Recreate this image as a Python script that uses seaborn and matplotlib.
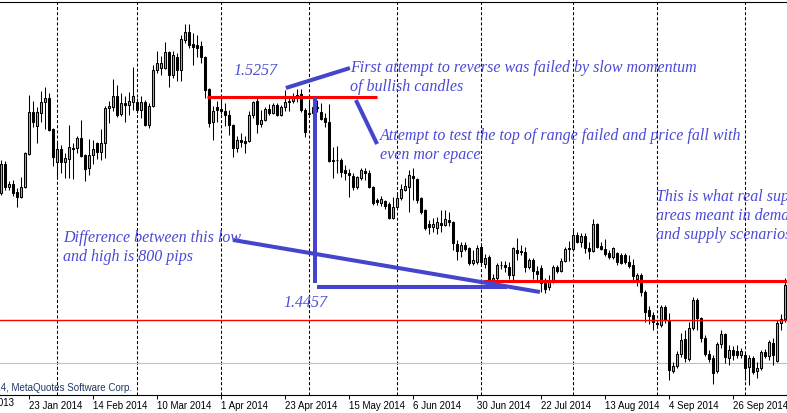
import matplotlib
matplotlib.use("Agg")
import matplotlib.pyplot as plt
import numpy as np
import pandas as pd
import seaborn as sns

# daily bars, 14 Jan 2014 .. 1 Oct 2014 (weekdays)
open_ = [
    1.4853, 1.4975, 1.4878, 1.4891, 1.4857, 1.4836, 1.4878, 1.5017, 1.5194, 1.5135,
    1.5190, 1.5236, 1.5253, 1.5122, 1.4983, 1.5038, 1.4983, 1.4996, 1.5042, 1.5042,
    1.5084, 1.5013, 1.4958, 1.5013, 1.5063, 1.5025, 1.5063, 1.5211, 1.5215, 1.5261,
    1.5185, 1.5232, 1.5223, 1.5236, 1.5236, 1.5202, 1.5236, 1.5139, 1.5219, 1.5371,
    1.5379, 1.5379, 1.5446, 1.5350, 1.5425, 1.5371, 1.5497, 1.5531, 1.5480, 1.5476,
    1.5472, 1.5425, 1.5291, 1.5152, 1.5215, 1.5206, 1.5198, 1.5181, 1.5139, 1.5042,
    1.5076, 1.5072, 1.5072, 1.5181, 1.5240, 1.5143, 1.5160, 1.5206, 1.5190, 1.5223,
    1.5181, 1.5215, 1.5240, 1.5240, 1.5261, 1.5270, 1.5202, 1.5190, 1.5190, 1.5215,
    1.5194, 1.5168, 1.5152, 1.4992, 1.4990, 1.4992, 1.4950, 1.4937, 1.4924, 1.4878,
    1.4916, 1.4945, 1.4937, 1.4878, 1.4823, 1.4811, 1.4819, 1.4806, 1.4747, 1.4794,
    1.4832, 1.4865, 1.4878, 1.4924, 1.4912, 1.4832, 1.4781, 1.4722, 1.4710, 1.4705,
    1.4726, 1.4718, 1.4739, 1.4731, 1.4638, 1.4609, 1.4634, 1.4621, 1.4558, 1.4562,
    1.4625, 1.4554, 1.4583, 1.4486, 1.4495, 1.4550, 1.4550, 1.4541, 1.4507, 1.4613,
    1.4609, 1.4604, 1.4541, 1.4571, 1.4524, 1.4537, 1.4474, 1.4457, 1.4478, 1.4541,
    1.4524, 1.4566, 1.4621, 1.4617, 1.4676, 1.4646, 1.4672, 1.4621, 1.4609, 1.4722,
    1.4630, 1.4617, 1.4600, 1.4583, 1.4600, 1.4592, 1.4592, 1.4562, 1.4550, 1.4491,
    1.4507, 1.4436, 1.4360, 1.4339, 1.4305, 1.4297, 1.4373, 1.4318, 1.4103, 1.4124,
    1.4175, 1.4238, 1.4154, 1.4284, 1.4402, 1.4326, 1.4242, 1.4175, 1.4158, 1.4103,
    1.4217, 1.4259, 1.4158, 1.4192, 1.4187, 1.4171, 1.4171, 1.4120, 1.4158, 1.4103,
    1.4116, 1.4183, 1.4166, 1.4221, 1.4145, 1.4305, 1.4322,
]
high = [
    1.4992, 1.4988, 1.4903, 1.4908, 1.4874, 1.4920, 1.5025, 1.5265, 1.5240, 1.5215,
    1.5282, 1.5299, 1.5274, 1.5126, 1.5072, 1.5055, 1.5021, 1.5139, 1.5063, 1.5093,
    1.5160, 1.5017, 1.5080, 1.5076, 1.5068, 1.5122, 1.5219, 1.5240, 1.5333, 1.5307,
    1.5274, 1.5261, 1.5278, 1.5383, 1.5253, 1.5261, 1.5244, 1.5232, 1.5392, 1.5451,
    1.5430, 1.5489, 1.5451, 1.5451, 1.5442, 1.5518, 1.5564, 1.5564, 1.5526, 1.5518,
    1.5493, 1.5430, 1.5295, 1.5219, 1.5240, 1.5257, 1.5232, 1.5202, 1.5143, 1.5093,
    1.5105, 1.5093, 1.5198, 1.5240, 1.5253, 1.5202, 1.5215, 1.5228, 1.5232, 1.5232,
    1.5223, 1.5286, 1.5253, 1.5274, 1.5291, 1.5291, 1.5211, 1.5244, 1.5244, 1.5244,
    1.5232, 1.5190, 1.5228, 1.5046, 1.5051, 1.5000, 1.4971, 1.4954, 1.4937, 1.4924,
    1.4958, 1.4958, 1.4950, 1.4882, 1.4832, 1.4840, 1.4823, 1.4815, 1.4836, 1.4849,
    1.4891, 1.4916, 1.4950, 1.4958, 1.4916, 1.4836, 1.4785, 1.4739, 1.4747, 1.4752,
    1.4781, 1.4781, 1.4773, 1.4735, 1.4655, 1.4646, 1.4646, 1.4625, 1.4613, 1.4634,
    1.4642, 1.4596, 1.4592, 1.4512, 1.4558, 1.4566, 1.4566, 1.4562, 1.4625, 1.4663,
    1.4634, 1.4625, 1.4579, 1.4579, 1.4545, 1.4550, 1.4495, 1.4507, 1.4550, 1.4550,
    1.4579, 1.4625, 1.4651, 1.4697, 1.4689, 1.4684, 1.4684, 1.4646, 1.4743, 1.4726,
    1.4646, 1.4659, 1.4613, 1.4625, 1.4604, 1.4600, 1.4600, 1.4592, 1.4575, 1.4516,
    1.4516, 1.4444, 1.4377, 1.4352, 1.4314, 1.4381, 1.4381, 1.4347, 1.4141, 1.4187,
    1.4263, 1.4276, 1.4310, 1.4415, 1.4411, 1.4331, 1.4255, 1.4192, 1.4171, 1.4225,
    1.4276, 1.4263, 1.4213, 1.4209, 1.4213, 1.4200, 1.4183, 1.4171, 1.4166, 1.4141,
    1.4192, 1.4196, 1.4234, 1.4242, 1.4318, 1.4343, 1.4495,
]
low = [
    1.4844, 1.4865, 1.4865, 1.4840, 1.4794, 1.4832, 1.4874, 1.5013, 1.5131, 1.5063,
    1.5152, 1.5122, 1.5114, 1.4966, 1.4912, 1.4937, 1.4916, 1.4916, 1.4912, 1.5021,
    1.5004, 1.4903, 1.4928, 1.4975, 1.4996, 1.4992, 1.5000, 1.5147, 1.5198, 1.5173,
    1.5177, 1.5152, 1.5181, 1.5202, 1.5190, 1.5168, 1.5135, 1.5126, 1.5215, 1.5358,
    1.5350, 1.5375, 1.5299, 1.5337, 1.5324, 1.5324, 1.5484, 1.5463, 1.5392, 1.5425,
    1.5400, 1.5253, 1.5131, 1.5076, 1.5152, 1.5185, 1.5135, 1.5097, 1.5004, 1.5025,
    1.5046, 1.5021, 1.5068, 1.5168, 1.5105, 1.5131, 1.5156, 1.5181, 1.5185, 1.5177,
    1.5177, 1.5198, 1.5198, 1.5232, 1.5236, 1.5194, 1.5088, 1.5177, 1.5181, 1.5194,
    1.5160, 1.5131, 1.4983, 1.4916, 1.4937, 1.4920, 1.4908, 1.4836, 1.4865, 1.4870,
    1.4908, 1.4908, 1.4874, 1.4802, 1.4802, 1.4798, 1.4785, 1.4743, 1.4743, 1.4790,
    1.4823, 1.4861, 1.4773, 1.4823, 1.4811, 1.4764, 1.4697, 1.4680, 1.4689, 1.4680,
    1.4689, 1.4714, 1.4714, 1.4613, 1.4571, 1.4583, 1.4609, 1.4550, 1.4550, 1.4554,
    1.4550, 1.4537, 1.4461, 1.4470, 1.4482, 1.4533, 1.4520, 1.4491, 1.4486, 1.4571,
    1.4592, 1.4520, 1.4533, 1.4491, 1.4486, 1.4436, 1.4432, 1.4444, 1.4474, 1.4516,
    1.4520, 1.4562, 1.4566, 1.4609, 1.4642, 1.4625, 1.4600, 1.4575, 1.4604, 1.4621,
    1.4613, 1.4587, 1.4575, 1.4575, 1.4550, 1.4554, 1.4554, 1.4537, 1.4486, 1.4461,
    1.4419, 1.4310, 1.4301, 1.4276, 1.4284, 1.4289, 1.4305, 1.4065, 1.4095, 1.4116,
    1.4162, 1.4141, 1.4145, 1.4276, 1.4276, 1.4225, 1.4166, 1.4141, 1.4049, 1.4095,
    1.4200, 1.4137, 1.4129, 1.4150, 1.4158, 1.4158, 1.4065, 1.4044, 1.4091, 1.4074,
    1.4107, 1.4158, 1.4150, 1.4129, 1.4141, 1.4276, 1.4310,
]
close = [
    1.4975, 1.4878, 1.4891, 1.4853, 1.4836, 1.4878, 1.5021, 1.5194, 1.5152, 1.5194,
    1.5236, 1.5253, 1.5118, 1.5004, 1.5038, 1.4983, 1.5000, 1.5046, 1.5040, 1.5084,
    1.5008, 1.4954, 1.5013, 1.5038, 1.5025, 1.5063, 1.5211, 1.5219, 1.5261, 1.5181,
    1.5232, 1.5223, 1.5240, 1.5261, 1.5202, 1.5236, 1.5139, 1.5219, 1.5371, 1.5400,
    1.5400, 1.5446, 1.5350, 1.5434, 1.5371, 1.5501, 1.5531, 1.5476, 1.5467, 1.5463,
    1.5425, 1.5286, 1.5147, 1.5198, 1.5202, 1.5198, 1.5181, 1.5139, 1.5042, 1.5076,
    1.5068, 1.5063, 1.5181, 1.5236, 1.5143, 1.5160, 1.5206, 1.5190, 1.5223, 1.5181,
    1.5215, 1.5236, 1.5236, 1.5261, 1.5265, 1.5202, 1.5110, 1.5185, 1.5215, 1.5211,
    1.5164, 1.5152, 1.4987, 1.4987, 1.4992, 1.4941, 1.4937, 1.4928, 1.4878, 1.4920,
    1.4950, 1.4937, 1.4878, 1.4811, 1.4815, 1.4827, 1.4798, 1.4747, 1.4794, 1.4832,
    1.4870, 1.4882, 1.4928, 1.4916, 1.4823, 1.4773, 1.4705, 1.4710, 1.4722, 1.4731,
    1.4718, 1.4743, 1.4731, 1.4642, 1.4609, 1.4634, 1.4617, 1.4558, 1.4571, 1.4621,
    1.4562, 1.4579, 1.4486, 1.4495, 1.4550, 1.4548, 1.4541, 1.4507, 1.4621, 1.4600,
    1.4604, 1.4541, 1.4571, 1.4524, 1.4512, 1.4474, 1.4449, 1.4486, 1.4541, 1.4524,
    1.4566, 1.4617, 1.4617, 1.4676, 1.4646, 1.4672, 1.4621, 1.4609, 1.4722, 1.4625,
    1.4617, 1.4596, 1.4583, 1.4621, 1.4562, 1.4558, 1.4562, 1.4545, 1.4503, 1.4507,
    1.4436, 1.4352, 1.4335, 1.4310, 1.4301, 1.4373, 1.4318, 1.4107, 1.4124, 1.4175,
    1.4234, 1.4158, 1.4284, 1.4402, 1.4326, 1.4242, 1.4175, 1.4154, 1.4095, 1.4217,
    1.4259, 1.4162, 1.4192, 1.4171, 1.4171, 1.4187, 1.4116, 1.4158, 1.4099, 1.4116,
    1.4183, 1.4166, 1.4225, 1.4171, 1.4305, 1.4322, 1.4465,
]

tick_bars = [7, 23, 39, 55, 71, 87, 103, 119, 135, 151, 167, 183]
tick_labels = ['23 Jan 2014', '14 Feb 2014', '10 Mar 2014', '1 Apr 2014',
               '23 Apr 2014', '15 May 2014', '6 Jun 2014', '30 Jun 2014',
               '22 Jul 2014', '13 Aug 2014', '4 Sep 2014', '26 Sep 2014']
month_bars = [14, 34, 55, 77, 99, 120, 143, 164, 186]

# drawn objects on the chart
range_top = 1.5257
support = 1.4482
low_level = 1.4318
ask_level = 1.4137

notes = [
    (58.1, 1.5366, '1.5257'),
    (87.3, 1.5379, 'First attempt to reverse was failed by slow momentum'),
    (87.3, 1.5299, 'of bullish candles'),
    (94.8, 1.5093, 'Attempt to test the top of range failed and price fall with'),
    (94.8, 1.5013, 'even mor epace'),
    (163.8, 1.4836, 'This is what real supply'),
    (163.8, 1.4756, 'areas meant in demand'),
    (163.8, 1.4676, 'and supply scenarios'),
    (15.6, 1.4663, 'Difference between this low'),
    (15.6, 1.4583, 'and high is 800 pips'),
    (70.6, 1.4390, '1.4457'),
]
pointer_lines = [
    ((71.3, 87.3), (1.5295, 1.5379)),
    ((88.8, 94.1), (1.5244, 1.5059)),
    ((78.65, 78.65), (1.5257, 1.4474)),
    ((79.0, 126.5), (1.4456, 1.4456)),
    ((58.1, 134.8), (1.4655, 1.4436)),
]

sns.set_theme(style="white")
plt.rcParams['font.family'] = ['Liberation Sans', 'DejaVu Sans']
plt.rcParams['lines.scale_dashes'] = False

df = pd.DataFrame({'open': open_, 'high': high, 'low': low, 'close': close})
df['bar'] = np.arange(len(df))
df['bull'] = df['close'] >= df['open']

fig = plt.figure(figsize=(7.87, 4.13), dpi=100)
ax = fig.add_axes([0, 18 / 413, 1, 393 / 413])
ax.set_facecolor('white')

for b in month_bars:
    ax.axvline(b, color='black', lw=0.75, ls=(0, (2.2, 1.5)), zorder=1)
ax.axhline(ask_level, color='#c0c0c0', lw=0.8, zorder=1)

# candles
ax.vlines(df['bar'], df['low'], df['high'], color='black', lw=0.75, zorder=2)
body_lo = df[['open', 'close']].min(axis=1)
body_h = (df['close'] - df['open']).abs().clip(lower=0.00003)
ax.bar(df['bar'], body_h, bottom=body_lo, width=0.6,
       color=np.where(df['bull'], '#9acd32', '#000000'),
       edgecolor='black', linewidth=0.75, zorder=3)

ax.hlines(range_top, 51.6, 94.1, color='red', lw=2.2, zorder=4)
ax.hlines(support, 120.6, 197, color='red', lw=2.2, zorder=4)
ax.axhline(low_level, color='red', lw=1.0, zorder=4)

for xs, ys in pointer_lines:
    ax.plot(xs, ys, color='#4444cc', lw=2.9, solid_capstyle='butt', zorder=5)

for x, y, s in notes:
    ax.text(x, y, s, family='Liberation Serif', style='italic', fontsize=11.5,
            color='#4a4ad6', ha='left', va='center', zorder=6)

ax.set_xlim(-0.175, 196.575)
ax.set_ylim(1.40023, 1.5657)
ax.set_yticks([])
ax.set_xticks(tick_bars)
ax.set_xticklabels(tick_labels, ha='left', fontsize=7, color='black')
ax.tick_params(axis='x', bottom=True, length=3, width=0.7, pad=1.5,
               direction='out', color='black')
ax.text(-10.4, -0.008, '31 Dec 2013', transform=ax.get_xaxis_transform(),
        ha='left', va='top', fontsize=7, color='black', clip_on=False)
ax.text(132 / 787, 7 / 393, '\u00a9 2001-2014, MetaQuotes Software Corp.',
        transform=ax.transAxes, ha='right', va='center', fontsize=7,
        color='#1f3864')

for side in ['left', 'right']:
    ax.spines[side].set_visible(False)
for side in ['top', 'bottom']:
    ax.spines[side].set_color('black')
    ax.spines[side].set_linewidth(0.8)

fig.savefig('out.png', dpi=100)
